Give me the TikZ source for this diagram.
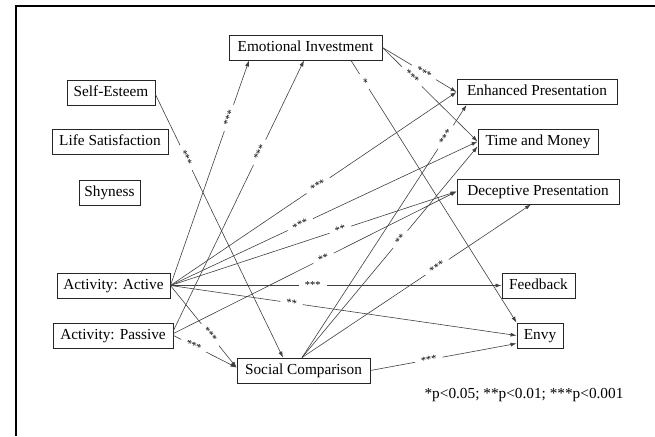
\documentclass[tikz,border=0pt]{standalone}
\usepackage{fontspec}
\setmainfont{Liberation Serif}
\usetikzlibrary{arrows.meta}
\begin{document}
\begin{tikzpicture}[x=1pt,y=-1pt,
  box/.style={draw=black!85, line width=0.9pt, fill=white, inner sep=0pt, minimum height=25pt,
    text height=10.5pt, text depth=3.2pt, font=\fontsize{15.3}{18}\selectfont},
  ed/.style={draw=black!75, line width=0.6pt, -{Latex[length=6pt,width=4pt]}},
  lab/.style={fill=white, inner xsep=6pt, inner ysep=1pt, font=\fontsize{10.5}{12}\selectfont, sloped}]
\useasboundingbox (0,0) rectangle (655,436);
\draw[line width=2pt] (16,436) -- (16,6) -- (655,6);

\node[box, minimum width=153pt] (ei) at (305.5,47.5) {Emotional Investment};
\node[box, minimum width=88pt] (se) at (111,92.5) {Self-Esteem};
\node[box, minimum width=116pt] (ls) at (110,142) {Life Satisfaction};
\node[box, minimum width=61pt] (sh) at (109.5,192.5) {Shyness};
\node[box, minimum width=160pt] (ep) at (537,92) {Enhanced Presentation};
\node[box, minimum width=120pt] (tm) at (538,141.5) {Time and Money};
\node[box, minimum width=162pt] (dp) at (538,191.5) {Deceptive Presentation};
\node[box, minimum width=113pt] (act) at (113.5,285.5) {Activity: Active};
\node[box, minimum width=120pt] (pas) at (113,335.5) {Activity: Passive};
\node[box, minimum width=73pt] (fb) at (538.5,285.5) {Feedback};
\node[box, minimum width=46pt] (envy) at (540,335.5) {Envy};
\node[box, minimum width=133pt] (sc) at (303.5,370.5) {Social Comparison};
\node[font=\fontsize{15.3}{18}\selectfont, inner sep=0pt] (leg) at (524,395) {*p<0.05; **p<0.01; ***p<0.001};

\draw[ed] (act.east) -- node[lab,pos=0.745]{***} ([xshift=-56.5pt]ei.south);
\draw[ed] ([yshift=5pt]pas.east) -- node[lab,pos=0.66]{***} ([xshift=-1.5pt]ei.south);
\draw[ed] ([yshift=-2pt]se.east) -- node[lab,pos=0.24]{***} ([xshift=-20.5pt]sc.north);
\draw[ed] (ei.east) -- node[lab,pos=0.56]{***} (ep.west);
\draw[ed] (ei.east) -- node[lab,pos=0.31]{***} (tm.west);
\draw[ed] ([xshift=45.5pt]ei.south) -- node[lab,pos=0.08]{*} (envy.north west);
\draw[ed] (act.east) -- node[lab,pos=0.516]{***} (ep.west);
\draw[ed] (act.east) -- node[lab,pos=0.423]{***} (tm.west);
\draw[ed] (act.east) -- node[lab,pos=0.594]{**} (dp.west);
\draw[ed] ([yshift=2pt]pas.east) -- node[lab,pos=0.53]{**} (dp.west);
\draw[ed] (act.east) -- node[lab,pos=0.43]{***} (fb.west);
\draw[ed] (act.east) -- node[lab,pos=0.35]{**} (envy.west);
\draw[ed] (act.east) -- node[lab,pos=0.6]{***} ([yshift=3pt]sc.west);
\draw[ed] (pas.east) -- node[lab,pos=0.32]{***} ([yshift=3pt]sc.west);
\draw[ed] ([xshift=-1.5pt]sc.north) -- node[lab,pos=0.873]{***} ([xshift=10pt]ep.south west);
\draw[ed] ([xshift=-1.5pt]sc.north) -- node[lab,pos=0.56]{**} ([yshift=-5pt]tm.west);
\draw[ed] ([xshift=-1.5pt]sc.north) -- node[lab,pos=0.59]{***} ([xshift=-7pt]dp.south);
\draw[ed] (sc.east) -- node[lab,pos=0.40]{***} ([yshift=-8pt]envy.west);
\end{tikzpicture}
\end{document}
